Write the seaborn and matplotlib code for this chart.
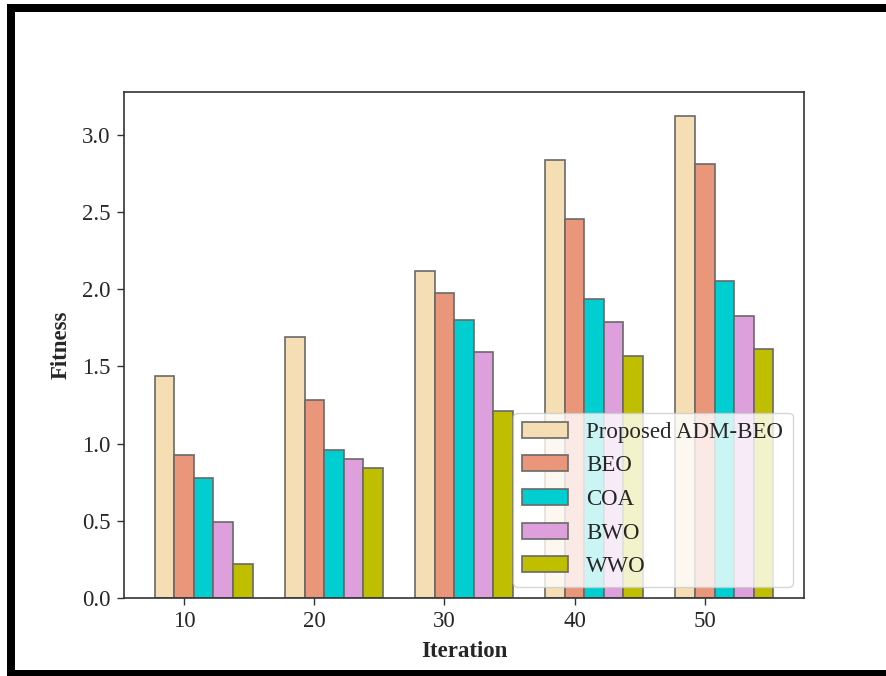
import matplotlib
matplotlib.use("Agg")
import matplotlib.pyplot as plt
from matplotlib.patches import Rectangle
import seaborn as sns
import pandas as pd

iterations = ["10", "20", "30", "40", "50"]
methods = ["Proposed ADM-BEO", "BEO", "COA", "BWO", "WWO"]
proposed = [1.435, 1.69, 2.115, 2.835, 3.12]
beo = [0.927, 1.282, 1.976, 2.454, 2.81]
coa = [0.776, 0.955, 1.797, 1.939, 2.054]
bwo = [0.493, 0.90, 1.592, 1.789, 1.823]
wwo = [0.22, 0.84, 1.21, 1.566, 1.612]
colors = ["wheat", "darksalmon", "darkturquoise", "plum", "y"]

series = [proposed, beo, coa, bwo, wwo]
rows = []
for m, vals in zip(methods, series):
    for it, v in zip(iterations, vals):
        rows.append({"Iteration": it, "Fitness": v, "Method": m})
df = pd.DataFrame(rows)

sns.set_style("ticks")
plt.rcParams["font.family"] = ["Liberation Serif", "DejaVu Serif"]
plt.rcParams["xtick.direction"] = "out"
plt.rcParams["ytick.direction"] = "out"

fig = plt.figure(figsize=(8.87, 6.76), dpi=100)
ax = fig.add_axes([124 / 887, 1 - 598 / 676, (804 - 124) / 887, (598 - 92) / 676])

sns.barplot(data=df, x="Iteration", y="Fitness", hue="Method",
            order=iterations, hue_order=methods, palette=colors,
            width=0.75, gap=0, saturation=1, edgecolor="dimgray",
            linewidth=1.2, errorbar=None, ax=ax)

n = len(iterations)
bw = 0.75 / len(methods)
ax.set_xticks([i - bw for i in range(n)])
ax.set_xticklabels(iterations)
ax.set_xlim(-0.6125, n - 1 + 0.6125)
ax.set_ylim(0, 3.12 * 1.05)
yt = [0.0, 0.5, 1.0, 1.5, 2.0, 2.5, 3.0]
ax.set_yticks(yt)
ax.set_yticklabels([f"{v:.1f}" for v in yt])
ax.tick_params(axis="both", labelsize=16.5, length=5, width=1, color="#333333")
ax.tick_params(axis="y", pad=4.5)
ax.tick_params(axis="x", pad=4.5)

ax.set_xlabel("Iteration", fontsize=16.5, fontweight="bold", labelpad=6)
ax.set_ylabel("Fitness", fontsize=16.5, fontweight="bold", labelpad=8)

for s in ax.spines.values():
    s.set_visible(True)
    s.set_color("#333333")
    s.set_linewidth(1.2)

leg = ax.legend(loc="lower right", fontsize=16.5, framealpha=0.8, fancybox=True,
                labelspacing=0.55)
leg.get_frame().set_edgecolor("#cccccc")

# Thick black frame on the left, top and bottom of the figure
W, H = 887, 676
fig.patches.append(Rectangle((7 / W, 0), 8 / W, 1 - 4 / H, transform=fig.transFigure,
                             facecolor="black", edgecolor="none"))
fig.patches.append(Rectangle((7 / W, 1 - 12 / H), 1 - 7 / W, 8 / H, transform=fig.transFigure,
                             facecolor="black", edgecolor="none"))
fig.patches.append(Rectangle((7 / W, 0), 1 - 7 / W, 6 / H, transform=fig.transFigure,
                             facecolor="black", edgecolor="none"))

fig.savefig("out.png", dpi=100)
